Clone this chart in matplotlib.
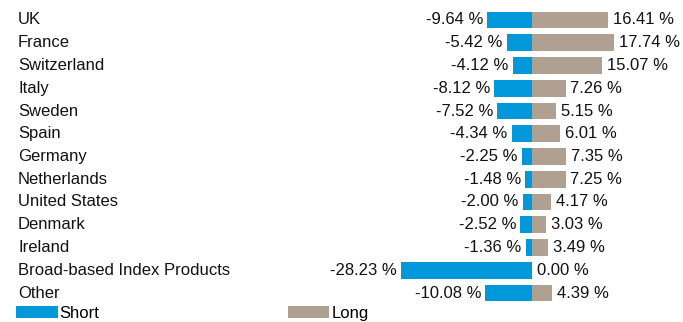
import matplotlib
matplotlib.use("Agg")
import matplotlib.pyplot as plt
from matplotlib.patches import Patch
import matplotlib.transforms as mtransforms

categories = ["UK", "France", "Switzerland", "Italy", "Sweden", "Spain", "Germany",
              "Netherlands", "United States", "Denmark", "Ireland",
              "Broad-based Index Products", "Other"]
short_vals = [-9.64, -5.42, -4.12, -8.12, -7.52, -4.34, -2.25, -1.48, -2.00, -2.52, -1.36, -28.23, -10.08]
long_vals = [16.41, 17.74, 15.07, 7.26, 5.15, 6.01, 7.35, 7.25, 4.17, 3.03, 3.49, 0.00, 4.39]
series_names = ["Short", "Long"]

BLUE = "#0098D8"
TAN = "#AFA091"
FS = 12

plt.rcParams['font.family'] = ['Liberation Sans', 'DejaVu Sans']

W, H = 683, 322
fig = plt.figure(figsize=(W / 100, H / 100), dpi=100)
ax = fig.add_axes([0, 0, 1, 1])
ax.set_axis_off()

ppu = 4.63
zero_px = 532
ax.set_xlim(-zero_px / ppu, (W - zero_px) / ppu)
row0 = 20
step = 22.75
ax.set_ylim((H - row0) / step, -row0 / step)

y = list(range(len(categories)))
ax.barh(y, short_vals, height=0.73, color=BLUE, linewidth=0)
ax.barh(y, long_vals, height=0.73, color=TAN, linewidth=0)

trans = mtransforms.blended_transform_factory(ax.transAxes, ax.transData)
for i, cat in enumerate(categories):
    ax.text(18 / W, i, cat, transform=trans, ha="left", va="center", fontsize=FS, color="#111111")
    ax.annotate(f"{short_vals[i]:.2f} %", (short_vals[i], i), xytext=(-3, 0),
                textcoords="offset points", ha="right", va="center", fontsize=FS, color="#111111")
    ax.annotate(f"{long_vals[i]:.2f} %", (long_vals[i], i), xytext=(3.5, 0),
                textcoords="offset points", ha="left", va="center", fontsize=FS, color="#111111")

handles = [Patch(color=BLUE, linewidth=0), Patch(color=TAN, linewidth=0)]
fig.legend(handles, series_names, loc="lower left", bbox_to_anchor=(15 / W, 0.0 / H),
           ncol=2, frameon=False, fontsize=FS, handlelength=2.5, handleheight=0.72,
           handletextpad=0.12, columnspacing=11.3, borderpad=0.05, borderaxespad=0)

fig.savefig("out.png", dpi=100)
